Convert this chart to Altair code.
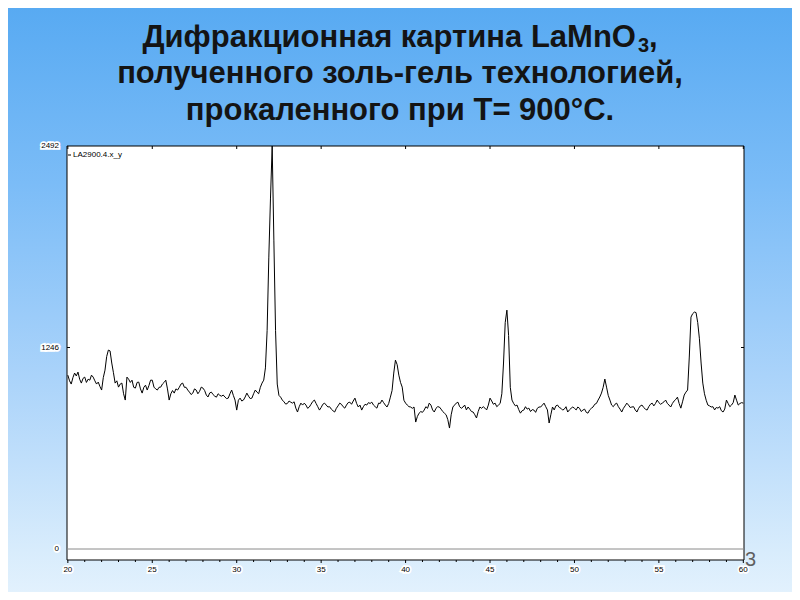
import altair as alt
import pandas as pd

# ---------------- data ----------------
title_line1_main = "Дифракционная картина LaMnO"
title_line1_sub = "3"
title_line1_end = ","
title_line2 = "полученного золь-гель технологией,"
title_line3 = "прокаленного при Т= 900°С."
legend_label = "LA2900.4.x_y"
slide_number = "3"

# intensity (counts) sampled every 0.1 degree 2-theta from 20.0 to 60.0
intensity = [
    1075, 1040, 1020, 1060, 1088, 1070, 1094, 1050, 1026, 1055,   # 20
    1063, 1030, 1050, 1044, 1075, 1063, 1040, 1020, 1032, 1005,   # 21
    983, 1060, 1106, 1190, 1230, 1225, 1150, 1090, 1026, 1040,    # 22
    1001, 1020, 1026, 960, 921, 1063, 1050, 1030, 1044, 1000,     # 23
    995, 1030, 1032, 990, 964, 1000, 1013, 983, 1010, 1044,       # 24
    1044, 1001, 990, 983, 1000, 1001, 1020, 1030, 1044, 990,      # 25
    921, 960, 980, 964, 990, 983, 1000, 1020, 1026, 1000,         # 26
    1000, 983, 970, 955, 964, 990, 983, 960, 975, 1001,           # 27
    995, 980, 952, 940, 965, 970, 955, 945, 939, 960,             # 28
    950, 945, 952, 940, 930, 933, 960, 983, 950, 921,             # 29
    859, 920, 933, 915, 921, 940, 964, 945, 930, 933,             # 30
    960, 983, 970, 960, 1000, 1026, 1044, 1120, 1350, 1800,       # 31
    2170, 2700, 1910, 1350, 1020, 950, 939, 921, 910, 896,        # 32
    900, 915, 908, 902, 910, 871, 847, 880, 902, 890,             # 33
    902, 890, 870, 878, 895, 912, 921, 900, 880, 859,             # 34
    875, 895, 902, 890, 878, 880, 865, 855, 847, 870,             # 35
    885, 902, 895, 880, 871, 890, 905, 908, 895, 915,             # 36
    933, 900, 878, 890, 859, 880, 895, 890, 905, 900,             # 37
    908, 890, 880, 871, 902, 900, 921, 905, 890, 878,             # 38
    900, 939, 980, 1088, 1168, 1140, 1075, 1030, 1001, 920,       # 39
    902, 890, 880, 878, 870, 878, 785, 820, 840, 850,             # 40
    845, 859, 880, 870, 902, 890, 860, 847, 870, 880,             # 41
    878, 865, 850, 840, 830, 800, 748, 830, 878, 890,             # 42
    902, 908, 880, 870, 878, 890, 860, 878, 865, 850,             # 43
    847, 830, 810, 850, 878, 870, 880, 871, 860, 890,             # 44
    933, 915, 895, 902, 880, 890, 900, 960, 1150, 1400,           # 45
    1477, 1320, 1000, 921, 900, 885, 890, 862, 840, 855,          # 46
    859, 880, 865, 871, 850, 862, 859, 845, 870, 878,             # 47
    878, 890, 902, 880, 860, 779, 830, 878, 860, 885,             # 48
    890, 875, 870, 859, 865, 880, 847, 860, 870, 878,             # 49
    870, 860, 878, 870, 850, 859, 865, 845, 840, 860,             # 50
    870, 878, 895, 900, 921, 940, 964, 1000, 1051, 1001,          # 51
    950, 921, 890, 880, 895, 902, 880, 865, 847, 870,             # 52
    885, 902, 890, 875, 878, 880, 860, 847, 870, 885,             # 53
    890, 875, 865, 859, 880, 895, 902, 885, 900, 921,             # 54
    905, 895, 902, 910, 921, 900, 890, 878, 900, 915,             # 55
    925, 939, 900, 871, 910, 952, 970, 983, 1187, 1434,           # 56
    1455, 1465, 1462, 1400, 1300, 1150, 1026, 960, 920, 890,      # 57
    885, 878, 880, 860, 875, 871, 880, 855, 847, 865,             # 58
    921, 900, 880, 890, 905, 952, 920, 890, 900, 905,             # 59
    902,                                                          # 60
]
two_theta = [round(20.0 + 0.1 * i, 1) for i in range(len(intensity))]

x_major = [20, 25, 30, 35, 40, 45, 50, 55, 60]
x_minor = [v for v in range(21, 60) if v % 5 != 0]
y_ticks = [0, 1246, 2492]

# ---------------- chart ----------------
W, H = 677, 414
xs = alt.Scale(domain=[19.95, 60.04], nice=False, zero=False)
ys = alt.Scale(domain=[-68, 2492], nice=False, zero=False, clamp=True)

df = pd.DataFrame({"two_theta": two_theta, "intensity": intensity})
one = pd.DataFrame({"k": [0]})
xmaj = pd.DataFrame({"v": x_major})
xmin = pd.DataFrame({"v": x_minor})
ytk = pd.DataFrame({"v": y_ticks})
inner_ticks = pd.DataFrame({"v": [1246]})
zero = pd.DataFrame({"v": [0]})

bg = alt.Chart(one).mark_rect(
    fill=alt.LinearGradient(
        gradient="linear",
        stops=[
            alt.GradientStop(color="#58AAF2", offset=0),
            alt.GradientStop(color="#7BBCF7", offset=0.3),
            alt.GradientStop(color="#AAD3FA", offset=0.63),
            alt.GradientStop(color="#D8ECFC", offset=0.93),
            alt.GradientStop(color="#E2F1FD", offset=1),
        ],
        x1=0, x2=0, y1=0, y2=1,
    )
).encode(x=alt.value(-59), x2=alt.value(725), y=alt.value(-138), y2=alt.value(446))

frame = alt.Chart(one).mark_rect(fill="white", stroke="black", strokeWidth=1).encode(
    x=alt.value(0), x2=alt.value(W), y=alt.value(0), y2=alt.value(H)
)

zero_line = alt.Chart(zero).mark_rule(color="#8a8a8a", strokeWidth=1).encode(
    y=alt.Y("v:Q", scale=ys, axis=None), x=alt.value(0), x2=alt.value(W)
)

line = alt.Chart(df).mark_line(color="black", strokeWidth=1).encode(
    x=alt.X("two_theta:Q", scale=xs, axis=None),
    y=alt.Y("intensity:Q", scale=ys, axis=None),
)

bottom_major = alt.Chart(xmaj).mark_rule(color="black").encode(
    x=alt.X("v:Q", scale=xs, axis=None), y=alt.value(H), y2=alt.value(H + 3)
)
bottom_minor = alt.Chart(xmin).mark_rule(color="black").encode(
    x=alt.X("v:Q", scale=xs, axis=None), y=alt.value(H), y2=alt.value(H + 2)
)
top_major = alt.Chart(xmaj).mark_rule(color="black").encode(
    x=alt.X("v:Q", scale=xs, axis=None), y=alt.value(0), y2=alt.value(3)
)
left_tick = alt.Chart(inner_ticks).mark_rule(color="black").encode(
    y=alt.Y("v:Q", scale=ys, axis=None), x=alt.value(0), x2=alt.value(3)
)
right_tick = alt.Chart(inner_ticks).mark_rule(color="black").encode(
    y=alt.Y("v:Q", scale=ys, axis=None), x=alt.value(W - 3), x2=alt.value(W)
)

lab_font = dict(font="Liberation Sans", fontSize=8)
x_lab_bg = alt.Chart(xmaj).mark_text(
    align="center", baseline="middle", color="white", stroke="white", strokeWidth=3.5, **lab_font
).encode(x=alt.X("v:Q", scale=xs, axis=None), y=alt.value(H + 9.5), text=alt.Text("v:Q", format="d"))
x_lab = alt.Chart(xmaj).mark_text(
    align="center", baseline="middle", color="black", **lab_font
).encode(x=alt.X("v:Q", scale=xs, axis=None), y=alt.value(H + 9.5), text=alt.Text("v:Q", format="d"))

y_lab_bg = alt.Chart(ytk).mark_text(
    align="right", baseline="middle", color="white", stroke="white", strokeWidth=3.5, **lab_font
).encode(y=alt.Y("v:Q", scale=ys, axis=None), x=alt.value(-8), text=alt.Text("v:Q", format="d"))
y_lab = alt.Chart(ytk).mark_text(
    align="right", baseline="middle", color="black", **lab_font
).encode(y=alt.Y("v:Q", scale=ys, axis=None), x=alt.value(-8), text=alt.Text("v:Q", format="d"))

legend_line = alt.Chart(one).mark_rule(color="black").encode(
    x=alt.value(1), x2=alt.value(4), y=alt.value(9)
)
legend_text = alt.Chart(pd.DataFrame({"t": [legend_label]})).mark_text(
    align="left", baseline="middle", color="black", **lab_font
).encode(x=alt.value(6), y=alt.value(9), text="t:N")

title_style = dict(font="Liberation Sans", fontWeight="bold", color="#141414", baseline="alphabetic")


def title_text(txt, x, y, align="center", size=31):
    return alt.Chart(pd.DataFrame({"t": [txt]})).mark_text(
        fontSize=size, align=align, **title_style
    ).encode(x=alt.value(x), y=alt.value(y), text="t:N")


titles = [
    title_text(title_line1_main, 569, -99.5, align="right"),
    title_text(title_line1_sub, 571, -94, align="left", size=20),
    title_text(title_line1_end, 582, -99.5, align="left"),
    title_text(title_line2, 333, -63),
    title_text(title_line3, 333, -26.5),
]

slide_no = alt.Chart(pd.DataFrame({"t": [slide_number]})).mark_text(
    font="Liberation Sans", fontSize=20, color="#5f5f5f", align="left", baseline="alphabetic"
).encode(x=alt.value(W + 1), y=alt.value(420), text="t:N")

chart = alt.layer(
    bg, frame, zero_line, line,
    bottom_major, bottom_minor, top_major, left_tick, right_tick,
    x_lab_bg, x_lab, y_lab_bg, y_lab,
    legend_line, legend_text, *titles, slide_no,
).properties(
    width=W, height=H,
    padding={"left": 59, "top": 138, "right": 48, "bottom": 32},
    autosize=alt.AutoSizeParams(type="none"),
).configure(background="#DEEFFD").configure_view(stroke=None)

chart.save("out.html", embed_options={"renderer": "svg", "actions": False})
